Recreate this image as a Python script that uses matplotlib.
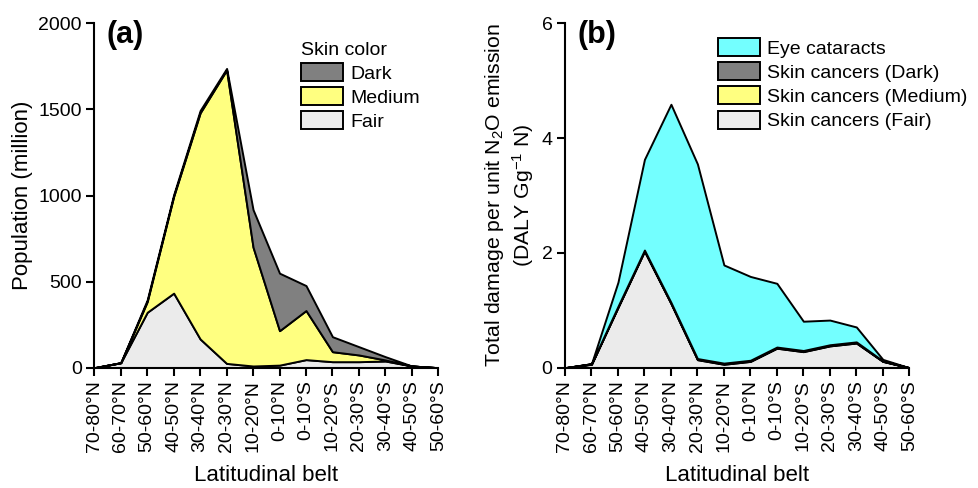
import numpy as np
import matplotlib
matplotlib.use('Agg')
import matplotlib.pyplot as plt

plt.rcParams['font.family'] = ['Liberation Sans', 'DejaVu Sans']
plt.rcParams['mathtext.fontset'] = 'custom'
plt.rcParams['mathtext.rm'] = 'Liberation Sans'
plt.rcParams['mathtext.it'] = 'Liberation Sans:italic'

belts = ['70-80°N', '60-70°N', '50-60°N', '40-50°N', '30-40°N', '20-30°N', '10-20°N',
         '0-10°N', '0-10°S', '10-20°S', '20-30°S', '30-40°S', '40-50°S', '50-60°S']

# (a) population by skin color (million)
pop_fair   = [0, 29, 322, 433, 167, 25, 10, 15, 47, 35, 35, 39, 10, 0]
pop_medium = [0, 0, 62, 562, 1313, 1704, 690, 200, 285, 58, 39, 6, 0, 0]
pop_dark   = [0, 0, 10, 10, 14, 9, 218, 334, 145, 87, 48, 19, 0, 0]

# (b) damage per unit N2O emission (DALY Gg-1 N)
dmg_fair     = [0, 0.06, 1.05, 2.03, 1.12, 0.14, 0.06, 0.11, 0.34, 0.28, 0.38, 0.43, 0.11, 0]
dmg_dark     = [0, 0.005, 0.01, 0.01, 0.01, 0.01, 0.01, 0.01, 0.01, 0.01, 0.01, 0.01, 0.005, 0]
dmg_medium   = [0, 0.005, 0.01, 0.01, 0.01, 0.01, 0.01, 0.01, 0.01, 0.01, 0.01, 0.01, 0.005, 0]
dmg_cataract = [0, 0.0, 0.42, 1.58, 3.45, 3.39, 1.71, 1.46, 1.11, 0.51, 0.43, 0.26, 0.025, 0]

c_dark = '#808080'
c_medium = '#ffff80'
c_fair = '#ebebeb'
c_eye = '#73ffff'

fig = plt.figure(figsize=(9.79, 4.88), dpi=100)
ax1 = fig.add_axes([0.0963, 0.2465, 0.3514, 0.7057])
ax2 = fig.add_axes([0.5771, 0.2465, 0.3517, 0.7057])

x = np.arange(len(belts))

ax1.stackplot(x, pop_fair, pop_medium, pop_dark,
              colors=[c_fair, c_medium, c_dark],
              labels=['Fair', 'Medium', 'Dark'],
              edgecolor='black', linewidth=1.4)
ax1.set_ylim(0, 2000)
ax1.set_yticks([0, 500, 1000, 1500, 2000])
ax1.set_ylabel('Population (million)', fontsize=16)
h, l = ax1.get_legend_handles_labels()
ax1.legend(h[::-1], l[::-1], title='Skin color', loc='upper left',
           bbox_to_anchor=(0.6, 0.947), frameon=False, fontsize=14,
           title_fontsize=14, alignment='left', handlelength=2.2,
           handleheight=1.05, labelspacing=0.23, handletextpad=0.35,
           borderpad=0, borderaxespad=0)
ax1.text(0.035, 1.01, '(a)', transform=ax1.transAxes, fontsize=22,
         fontweight='bold', va='top', ha='left')

ax2.stackplot(x, dmg_fair, dmg_medium, dmg_dark, dmg_cataract,
              colors=[c_fair, c_medium, c_dark, c_eye],
              labels=['Skin cancers (Fair)', 'Skin cancers (Medium)',
                      'Skin cancers (Dark)', 'Eye cataracts'],
              edgecolor='black', linewidth=1.4)
ax2.set_ylim(0, 6)
ax2.set_yticks([0, 2, 4, 6])
ax2.set_ylabel('Total damage per unit N$_2$O emission\n(DALY Gg$^{-1}$ N)', fontsize=15.3)
h, l = ax2.get_legend_handles_labels()
ax2.legend(h[::-1], l[::-1], loc='upper left', bbox_to_anchor=(0.443, 0.957),
           frameon=False, fontsize=14, handlelength=2.2, handleheight=1.05,
           labelspacing=0.23, handletextpad=0.35, borderpad=0, borderaxespad=0)
ax2.text(0.035, 1.01, '(b)', transform=ax2.transAxes, fontsize=22,
         fontweight='bold', va='top', ha='left')

for ax in (ax1, ax2):
    ax.set_xlim(0, len(belts) - 1)
    ax.set_xticks(x)
    ax.set_xticklabels(belts, rotation=90)
    ax.set_xlabel('Latitudinal belt', fontsize=16, labelpad=9)
    ax.spines['top'].set_visible(False)
    ax.spines['right'].set_visible(False)
    ax.spines['left'].set_linewidth(1.5)
    ax.spines['bottom'].set_linewidth(1.5)
    ax.tick_params(direction='out', length=5.5, width=1.5, labelsize=14)

fig.savefig('out.png', dpi=100)
